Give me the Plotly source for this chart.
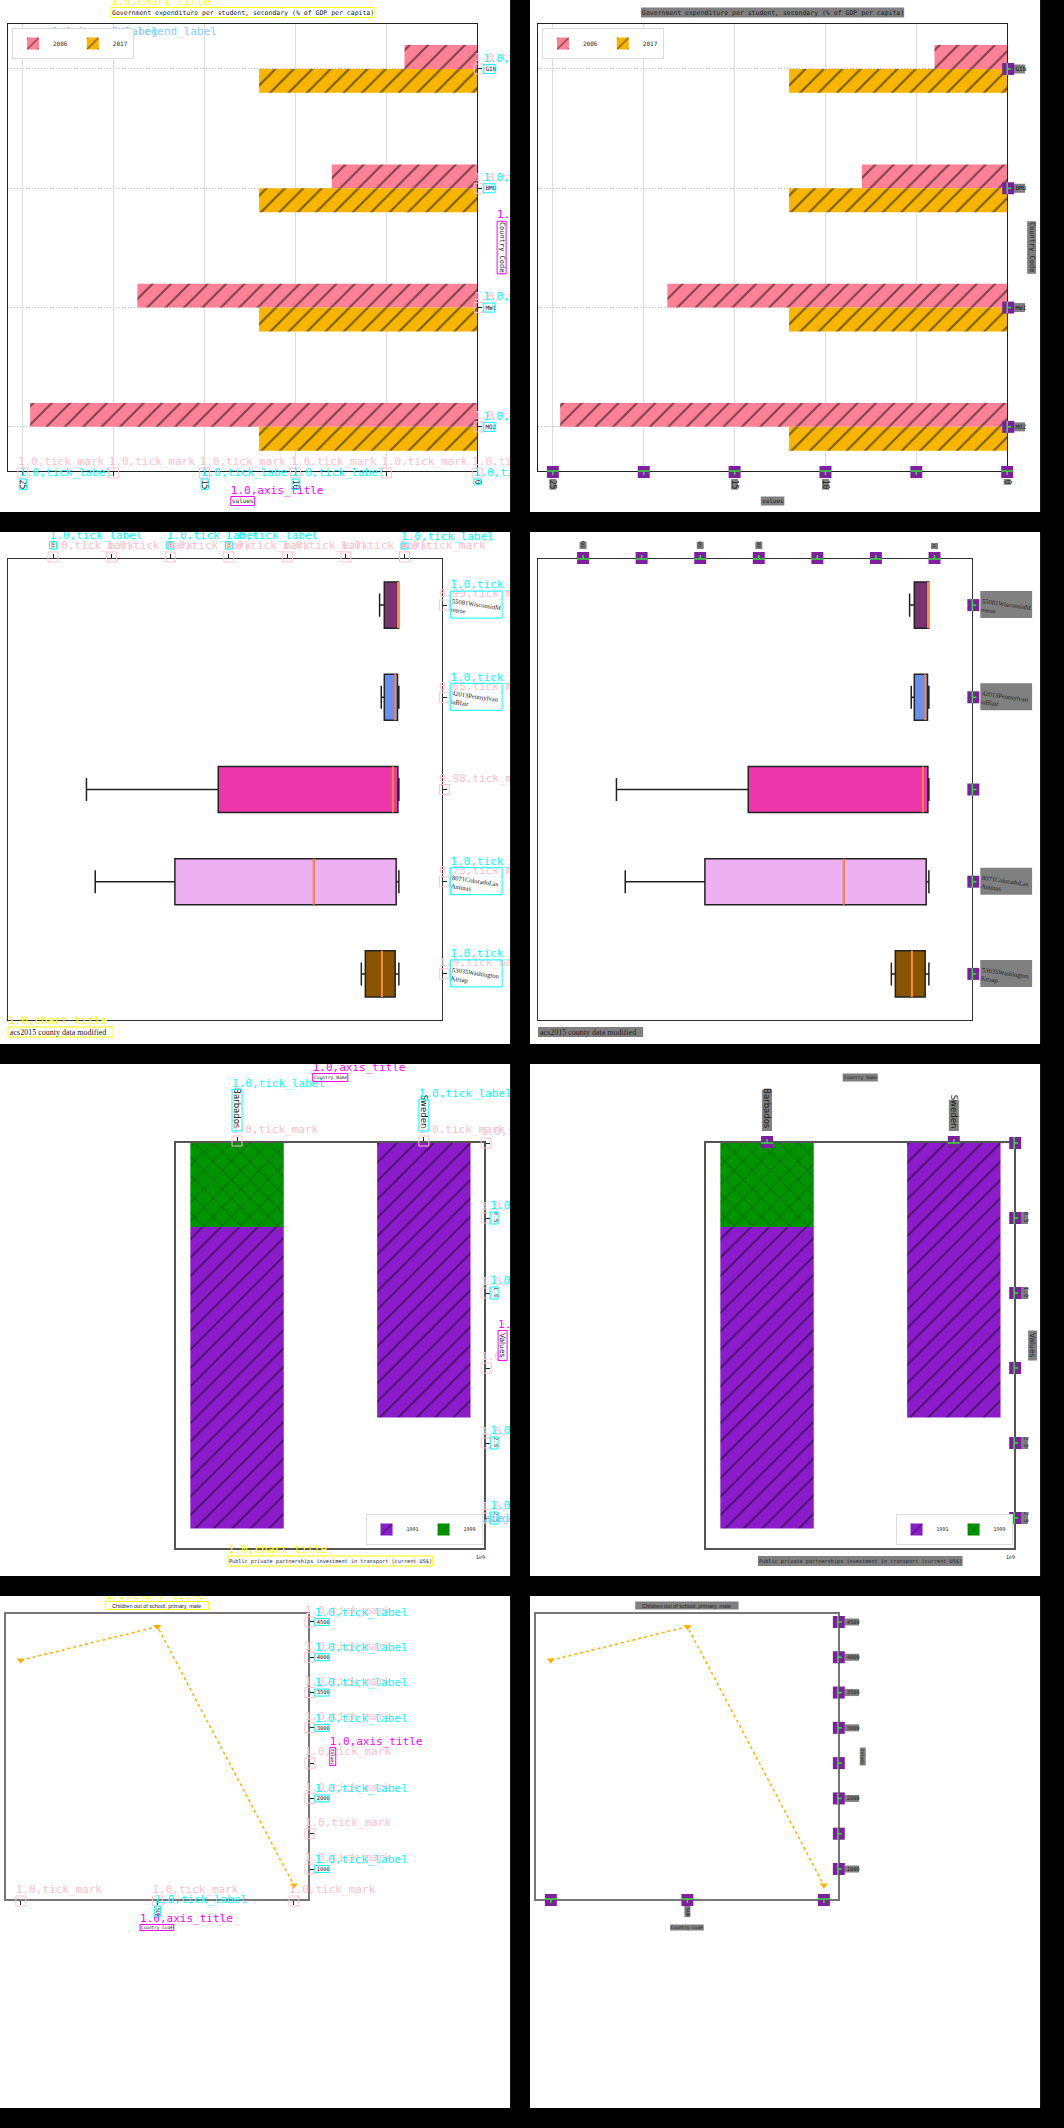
import plotly.graph_objects as go

W, H = 1064, 2128
P = 512
STEP = 532
MONO = "DejaVu Sans Mono"
SANS = "Liberation Sans"
SERIF = "Liberation Serif"
DSANS = "DejaVu Sans"

# ---------------- data: chart A (horizontal grouped bars) ----------------
a_title = "Government expenditure per student, secondary (% of GDP per capita)"
a_countries = ["GIN", "BMU", "MWI", "MOZ"]
a_years = ["2006", "2017"]
a_2006 = [4.0, 8.0, 18.7, 24.6]
a_2017 = [12.0, 12.0, 12.0, 12.0]
a_xticks = [0, 5, 10, 15, 20, 25]
a_xticktext = ["0", "", "10", "15", "", "25"]
a_xtitle = "values"
a_ytitle = "Country_Code"

# ---------------- data: chart B (box plots) ----------------
b_title = "acs2015 county data modified"
b_counties = ["55081WisconsinM<br>onroe", "42013Pennsylvan<br>iaBlair", "",
              "8071ColoradoLas<br>Animas", "53035Washington<br>Kitsap"]
b_lowerfence = [1.0, 0.96, 0.96, 0.96, 0.96]
b_q1 = [1.0, 1.19, 1.13, 1.42, 1.59]
b_median = [1.1, 1.59, 1.98, 15.5, 3.85]
b_q3 = [3.45, 3.45, 31.8, 39.2, 6.69]
b_upperfence = [4.25, 3.97, 54.3, 52.8, 7.37]
b_colors = ["#7B3370", "#6690F4", "#EC36A9", "#EDB1F1", "#895400"]
b_xticks = [0, 10, 20, 30, 40, 50, 60]
b_xticktext = ["0", "", "", "30", "40", "", "60"]
b_scores = ["0.99", "0.65", "0.98", "0.73", "1.0"]

# ---------------- data: chart C (stacked bars) ----------------
c_title = "Public private partnerships investment in transport (current US$)"
c_countries = ["Barbados", "Sweden"]
c_years = ["1991", "1999"]
c_1991 = [2.01e9, 1.83e9]
c_1999 = [0.56e9, 0.0]
c_yticks = [0, 0.5e9, 1.0e9, 1.5e9, 2.0e9, 2.5e9]
c_yticktext = ["", "0.5", "1.0", "", "2.0", "2.5"]
c_xtitle = "Country Name"
c_ytitle = "Values"

# ---------------- data: chart D (line) ----------------
d_title = "Children out of school, primary, male"
d_codes = ["", "SUR", ""]
d_values = [3957, 4434, 769]
d_yticks = [1000, 1500, 2000, 2500, 3000, 3500, 4000, 4500]
d_yticktext = ["1000", "", "2000", "", "3000", "3500", "4000", "4500"]
d_xtitle = "Country Code"
d_ytitle = "Values"

# ---------------- geometry (panel-local pixels) ----------------
GEO = {
    "A": dict(L=8, R=479, T=24, B=471, xr=[25.82, 0], yr=[3.37, -0.377]),
    "B": dict(L=8, R=444, T=27, B=488, xr=[67.7, -6.46], yr=[4.5, -0.5]),
    "C": dict(L=177, R=486, T=79, B=484, xr=[-0.325, 1.323], yr=[2.7e9, 0]),
    "D": dict(L=6, R=309, T=18, B=303, xr=[-0.109, 2.102], yr=[575, 4613]),
}

A_PINK, A_ORANGE = "#FF8196", "#F7B500"
C_PURPLE, C_GREEN = "#8A1DC9", "#009400"
D_ORANGE = "#FFB000"
MED = "#FF8C3C"
OV = dict(tick_mark="#FFC0CB", tick_label="#00FFFF", axis_title="#FF00FF",
          chart_title="#FFFF00", legend_label="#87CEFA")
PURPLE_BOX, GREEN, GREY = "#7E1F9F", "#33E133", "#808080"
LEGID = {1: "legend", 2: "legend2", 5: "legend3", 6: "legend4"}

fig = go.Figure()
axes, shapes, anns, legends = {}, [], [], {}


def aid(n):
    return "" if n == 1 else str(n)


def origin(n):
    return (0 if n % 2 else STEP, ((n - 1) // 2) * STEP)


def PX(n, x):
    return (origin(n)[0] + x) / W


def PY(n, y):
    return 1 - (origin(n)[1] + y) / H


def mx(g, v):
    r0, r1 = g["xr"]
    return g["L"] + (v - r0) / (r1 - r0) * (g["R"] - g["L"])


def my(g, v):
    r0, r1 = g["yr"]
    return g["B"] - (v - r0) / (r1 - r0) * (g["B"] - g["T"])


def axstyle(**kw):
    d = dict(showline=True, linecolor="#222", linewidth=1.2, mirror=True, ticks="outside",
             ticklen=4, tickcolor="#222", tickwidth=1, showgrid=False, zeroline=False,
             fixedrange=True)
    d.update(kw)
    return d


def setup_axes(n, g, xkw, ykw):
    axes["xaxis" + aid(n)] = dict(domain=[PX(n, g["L"]), PX(n, g["R"])], range=g["xr"],
                                  anchor="y" + aid(n), **xkw)
    axes["yaxis" + aid(n)] = dict(domain=[PY(n, g["B"]), PY(n, g["T"])], range=g["yr"],
                                  anchor="x" + aid(n), **ykw)
    m = n + 8
    axes["xaxis" + aid(m)] = dict(domain=[PX(n, 0), PX(n, P)], range=[0, P], anchor="y" + aid(m),
                                  visible=False, fixedrange=True)
    axes["yaxis" + aid(m)] = dict(domain=[PY(n, P), PY(n, 0)], range=[P, 0], anchor="x" + aid(m),
                                  visible=False, fixedrange=True)


def label(n, x, y, text, family, size, angle=0, xanchor="center", color="#222"):
    anns.append(dict(x=PX(n, x), y=PY(n, y), xref="paper", yref="paper", text=text,
                     showarrow=False, textangle=angle, xanchor=xanchor, yanchor="middle",
                     font=dict(family=family, size=size, color=color)))


def tm(x, y, dx, dy, score="1.0"):
    return dict(kind="tick_mark", x=x, y=y, dx=dx, dy=dy, score=score)


def bx(kind, x0, y0, x1, y1):
    return dict(kind=kind, box=(x0, y0, x1, y1))


def cbox(kind, cx, cy, w, h):
    return bx(kind, cx - w / 2, cy - h / 2, cx + w / 2, cy + h / 2)


def legend_est(texts, fs):
    cw = 0.602 * fs
    w = 2 + sum(40 + len(t) * cw + 5 for t in texts)
    return w, 30


def legend_boxes(lx, ly, texts, fs):
    cw = 0.602 * fs
    out = []
    x = lx + 1
    for t in texts:
        tw = len(t) * cw
        out.append((x + 39, ly + 14 - fs * 0.65, x + 41 + tw, ly + 14 + fs * 0.65))
        x += 40 + tw + 5
    return out


def render_overlay(n, elems, right):
    m = n + 8
    xr, yr = "x" + aid(m), "y" + aid(m)
    tx, ty, tt, tc = [], [], [], []
    for e in elems:
        kind = e["kind"]
        if kind == "tick_mark":
            x, y, dx, dy = e["x"], e["y"], e["dx"], e["dy"]
            if right:
                cx, cy = x + dx, y + dy
                shapes.append(dict(type="rect", xref=xr, yref=yr, x0=cx - 6, x1=cx + 6,
                                   y0=cy - 6, y1=cy + 6, fillcolor=PURPLE_BOX,
                                   line=dict(width=0), layer="above"))
                if dx == 0:
                    shapes.append(dict(type="line", xref=xr, yref=yr, x0=x - 6, x1=x + 6, y0=y, y1=y,
                                       line=dict(color=GREEN, width=1.5), layer="above"))
                else:
                    shapes.append(dict(type="line", xref=xr, yref=yr, x0=x, x1=x, y0=y - 6, y1=y + 6,
                                       line=dict(color=GREEN, width=1.5), layer="above"))
                shapes.append(dict(type="line", xref=xr, yref=yr, x0=x, x1=x + 4 * dx, y0=y,
                                   y1=y + 4 * dy, line=dict(color=GREEN, width=1.5), layer="above"))
            else:
                cx, cy = x + 2 * dx, y + 2 * dy
                shapes.append(dict(type="rect", xref=xr, yref=yr, x0=cx - 5, x1=cx + 5,
                                   y0=cy - 5, y1=cy + 5, line=dict(color=OV[kind], width=1),
                                   fillcolor="rgba(0,0,0,0)", layer="above"))
                tx.append(cx - 5); ty.append(cy - 5)
                tt.append(e["score"] + ",tick_mark"); tc.append(OV[kind])
        else:
            x0, y0, x1, y1 = e["box"]
            if right:
                if kind == "legend_label":
                    shapes.append(dict(type="rect", xref=xr, yref=yr, x0=x0, x1=x1, y0=y0, y1=y1,
                                       fillcolor="rgba(0,220,220,0.6)",
                                       line=dict(color="#D00000", width=2), layer="above"))
                else:
                    shapes.append(dict(type="rect", xref="paper", yref="paper", x0=PX(n, x0),
                                       x1=PX(n, x1), y0=PY(n, y1), y1=PY(n, y0), fillcolor=GREY,
                                       line=dict(width=0), layer="below"))
            else:
                shapes.append(dict(type="rect", xref=xr, yref=yr, x0=x0, x1=x1, y0=y0, y1=y1,
                                   line=dict(color=OV[kind], width=1),
                                   fillcolor="rgba(0,0,0,0)", layer="above"))
                tx.append(x0); ty.append(y0)
                tt.append("1.0," + kind); tc.append(OV[kind])
    if tx:
        fig.add_trace(go.Scatter(x=tx, y=ty, text=tt, mode="text", textposition="top right",
                                 textfont=dict(family=MONO, size=11, color=tc), xaxis=xr, yaxis=yr,
                                 showlegend=False, cliponaxis=True, hoverinfo="skip"))


# ---------------- chart builders ----------------
def build_A(n, right):
    g = GEO["A"]
    xa, ya = "x" + aid(n), "y" + aid(n)
    mid_x, mid_y = (g["L"] + g["R"]) / 2, (g["T"] + g["B"]) / 2
    setup_axes(n, g,
               axstyle(tickvals=a_xticks, ticktext=a_xticktext, tickangle=90,
                       tickfont=dict(family=MONO, size=8, color="#222"), showgrid=True,
                       gridcolor="#DCDCDC", gridwidth=1, ticklabelstandoff=2),
               axstyle(type="category", categoryorder="array", categoryarray=a_countries,
                       side="right", tickfont=dict(family=MONO, size=6, color="#222"),
                       showgrid=True, gridcolor="#C4C4C4", griddash="1px,2px", gridwidth=1,
                       ticklabelstandoff=2))
    leg = LEGID[n]
    for name, vals, col, off in zip(a_years, [a_2006, a_2017], [A_PINK, A_ORANGE], [-0.2, 0.0]):
        fig.add_trace(go.Bar(name=name, y=a_countries, x=vals, orientation="h", base=0,
                             width=0.2, offset=off, xaxis=xa, yaxis=ya, legend=leg,
                             marker=dict(color=col, line=dict(width=0),
                                         pattern=dict(shape="/", fgcolor="black", bgcolor=col,
                                                      size=13, solidity=0.16))))
    lx, ly = 12, 28
    legends[leg] = dict(x=PX(n, lx), y=PY(n, ly), xanchor="left", yanchor="top", orientation="h",
                        font=dict(family=MONO, size=6, color="#222"), bgcolor="white",
                        bordercolor="#DDDDDD", borderwidth=1, itemwidth=30)
    label(n, mid_x, 12.5, a_title, MONO, 6.5)
    label(n, mid_x, 501, a_xtitle, MONO, 6)
    label(n, 503.5, mid_y, a_ytitle, MONO, 7, angle=90)

    E = [cbox("chart_title", mid_x, 12.5, len(a_title) * 0.602 * 6.5 + 2, 10)]
    for v in a_xticks:
        E.append(tm(mx(g, v), g["B"], 0, 1))
    for v, t in zip(a_xticks, a_xticktext):
        if t:
            E.append(bx("tick_label", mx(g, v) - 3.5, g["B"] + 8, mx(g, v) + 3.5,
                        g["B"] + 9 + len(t) * 0.602 * 8))
    for k, c in enumerate(a_countries):
        E.append(tm(g["R"], my(g, k), 1, 0))
        E.append(bx("tick_label", g["R"] + 6, my(g, k) - 4.5, g["R"] + 7 + len(c) * 0.602 * 6,
                    my(g, k) + 4.5))
    E.append(cbox("axis_title", mid_x, 501, len(a_xtitle) * 0.602 * 6 + 2, 9))
    E.append(cbox("axis_title", 503.5, mid_y, 9, len(a_ytitle) * 0.602 * 7 + 2))
    for b in legend_boxes(lx, ly, a_years, 6):
        E.append(bx("legend_label", *b))
    render_overlay(n, E, right)


def build_B(n, right):
    g = GEO["B"]
    xa, ya = "x" + aid(n), "y" + aid(n)
    pos = list(range(len(b_counties)))
    setup_axes(n, g,
               axstyle(side="top", tickvals=b_xticks, ticktext=b_xticktext, tickangle=90,
                       tickfont=dict(family=SERIF, size=7, color="#222"), ticklabelstandoff=4,
                       linecolor="#333"),
               axstyle(side="right", tickvals=pos, ticktext=b_counties, tickangle=8,
                       tickfont=dict(family=SERIF, size=6.5, color="#222"), ticklabelstandoff=3,
                       linecolor="#333"))
    for k in pos:
        fig.add_trace(go.Box(y=[k], q1=[b_q1[k]], median=[b_median[k]], q3=[b_q3[k]],
                             lowerfence=[b_lowerfence[k]], upperfence=[b_upperfence[k]],
                             orientation="h", width=0.5, whiskerwidth=0.5, fillcolor=b_colors[k],
                             line=dict(color="#222", width=1.5), boxpoints=False,
                             xaxis=xa, yaxis=ya, showlegend=False, hoverinfo="skip"))
    mxs, mys = [], []
    for k in pos:
        mxs += [b_median[k], b_median[k], None]
        mys += [k - 0.25, k + 0.25, None]
    fig.add_trace(go.Scatter(x=mxs, y=mys, mode="lines", line=dict(color=MED, width=2),
                             xaxis=xa, yaxis=ya, showlegend=False, hoverinfo="skip"))
    label(n, g["L"], 500, b_title, SERIF, 8, xanchor="left")

    E = []
    for v in b_xticks:
        E.append(tm(mx(g, v), g["T"], 0, -1))
    for v, t in zip(b_xticks, b_xticktext):
        if t:
            h = max(6, len(t) * 3.6)
            E.append(bx("tick_label", mx(g, v) - 3.5, g["T"] - 10 - h, mx(g, v) + 3.5, g["T"] - 10))
    for k in pos:
        E.append(tm(g["R"], my(g, k), 1, 0, b_scores[k]))
        if b_counties[k]:
            E.append(bx("tick_label", g["R"] + 8, my(g, k) - 14, g["R"] + 60, my(g, k) + 13))
    E.append(bx("chart_title", g["L"], 495, g["L"] + len(b_title) * 3.7 + 2, 505))
    render_overlay(n, E, right)


def build_C(n, right):
    g = GEO["C"]
    xa, ya = "x" + aid(n), "y" + aid(n)
    mid_x, mid_y = (g["L"] + g["R"]) / 2, (g["T"] + g["B"]) / 2
    setup_axes(n, g,
               axstyle(type="category", categoryorder="array", categoryarray=c_countries,
                       side="top", tickangle=90, tickfont=dict(family=DSANS, size=8.5, color="#222"),
                       ticklabelstandoff=6, linecolor="#555", linewidth=1.5),
               axstyle(side="right", tickvals=c_yticks, ticktext=c_yticktext, tickangle=90,
                       tickfont=dict(family=MONO, size=6, color="#222"), ticklabelstandoff=2,
                       linecolor="#555", linewidth=1.5))
    leg = LEGID[n]
    fig.add_trace(go.Bar(name=c_years[0], x=c_countries, y=c_1991, base=c_1999, width=0.5,
                         offset=-0.25, xaxis=xa, yaxis=ya, legend=leg,
                         marker=dict(color=C_PURPLE, line=dict(width=0),
                                     pattern=dict(shape="/", fgcolor="black", bgcolor=C_PURPLE,
                                                  size=13, solidity=0.12))))
    fig.add_trace(go.Bar(name=c_years[1], x=c_countries, y=c_1999, base=0, width=0.5,
                         offset=-0.25, xaxis=xa, yaxis=ya, legend=leg,
                         marker=dict(color=C_GREEN, line=dict(width=0),
                                     pattern=dict(shape="x", fgcolor="black", bgcolor=C_GREEN,
                                                  size=13, solidity=0.1))))
    lw, lh = legend_est(c_years, 5)
    lx, ly = 483 - lw, 480 - lh
    legends[leg] = dict(x=PX(n, lx), y=PY(n, ly), xanchor="left", yanchor="top", orientation="h",
                        font=dict(family=MONO, size=5, color="#222"), bgcolor="white",
                        bordercolor="#DDDDDD", borderwidth=1, itemwidth=30)
    label(n, mid_x, 13.5, c_xtitle, MONO, 4.6)
    label(n, 504.5, mid_y, c_ytitle, DSANS, 7.5, angle=90)
    label(n, mid_x, 497, c_title, MONO, 5.2)
    label(n, 482, 493, "1e9", MONO, 5)

    E = []
    for k, c in enumerate(c_countries):
        E.append(tm(mx(g, k), g["T"], 0, -1))
        E.append(bx("tick_label", mx(g, k) - 5, g["T"] - 12 - len(c) * 5.2, mx(g, k) + 5, g["T"] - 12))
    for v, t in zip(c_yticks, c_yticktext):
        E.append(tm(g["R"], my(g, v), 1, 0))
        if t:
            E.append(bx("tick_label", g["R"] + 6, my(g, v) - 6, g["R"] + 14, my(g, v) + 6))
    E.append(cbox("axis_title", mid_x, 13.5, len(c_xtitle) * 0.602 * 4.6 + 2, 8))
    E.append(cbox("axis_title", 504.5, mid_y, 9, 30))
    E.append(cbox("chart_title", mid_x, 497, len(c_title) * 0.602 * 5.2 + 2, 10))
    for b in legend_boxes(lx, ly, c_years, 5):
        E.append(bx("legend_label", *b))
    render_overlay(n, E, right)


def build_D(n, right):
    g = GEO["D"]
    xa, ya = "x" + aid(n), "y" + aid(n)
    mid_x, mid_y = (g["L"] + g["R"]) / 2, (g["T"] + g["B"]) / 2
    pos = list(range(len(d_codes)))
    setup_axes(n, g,
               axstyle(tickvals=pos, ticktext=d_codes, tickangle=90,
                       tickfont=dict(family=MONO, size=5, color="#222"), ticklabelstandoff=2,
                       linecolor="#777", linewidth=1.5),
               axstyle(side="right", tickvals=d_yticks, ticktext=d_yticktext,
                       tickfont=dict(family=MONO, size=5.5, color="#222"), ticklabelstandoff=2,
                       linecolor="#777", linewidth=1.5))
    fig.add_trace(go.Scatter(x=pos, y=d_values, mode="lines+markers",
                             line=dict(color=D_ORANGE, width=1.5, dash="dot"),
                             marker=dict(symbol="triangle-down", size=7, color=D_ORANGE),
                             xaxis=xa, yaxis=ya, showlegend=False, hoverinfo="skip"))
    label(n, mid_x, 9.5, d_title, SANS, 5.5)
    label(n, mid_x, 331.5, d_xtitle, MONO, 4.4)
    label(n, 334, mid_y, d_ytitle, MONO, 4.4, angle=90)

    E = []
    for k, c in zip(pos, d_codes):
        E.append(tm(mx(g, k), g["B"], 0, 1))
        if c:
            E.append(bx("tick_label", mx(g, k) - 3, g["B"] + 7, mx(g, k) + 3,
                        g["B"] + 8 + len(c) * 3.3))
    for v, t in zip(d_yticks, d_yticktext):
        E.append(tm(g["R"], my(g, v), 1, 0))
        if t:
            E.append(bx("tick_label", g["R"] + 7, my(g, v) - 3.5,
                        g["R"] + 8 + len(t) * 0.602 * 5.5, my(g, v) + 3.5))
    E.append(cbox("axis_title", mid_x, 331.5, len(d_xtitle) * 0.602 * 4.4 + 2, 6))
    E.append(cbox("axis_title", 334, mid_y, 6, len(d_ytitle) * 0.602 * 4.4 + 2))
    E.append(cbox("chart_title", mid_x, 9.5, len(d_title) * 2.75 + 2, 8))
    render_overlay(n, E, right)


# white panels first
for n in range(1, 9):
    shapes.append(dict(type="rect", xref="paper", yref="paper", x0=PX(n, 0), x1=PX(n, P),
                       y0=PY(n, P), y1=PY(n, 0), fillcolor="white", line=dict(width=0),
                       layer="below"))

builders = {"A": build_A, "B": build_B, "C": build_C, "D": build_D}
for n in range(1, 9):
    builders["ABCD"[(n - 1) // 2]](n, n % 2 == 0)

fig.update_layout(width=W, height=H, margin=dict(l=0, r=0, t=0, b=0), paper_bgcolor="black",
                  plot_bgcolor="rgba(0,0,0,0)", barmode="overlay", boxmode="overlay",
                  shapes=shapes, annotations=anns, **axes, **legends)

fig.write_html("out.html", config={"displayModeBar": False})
